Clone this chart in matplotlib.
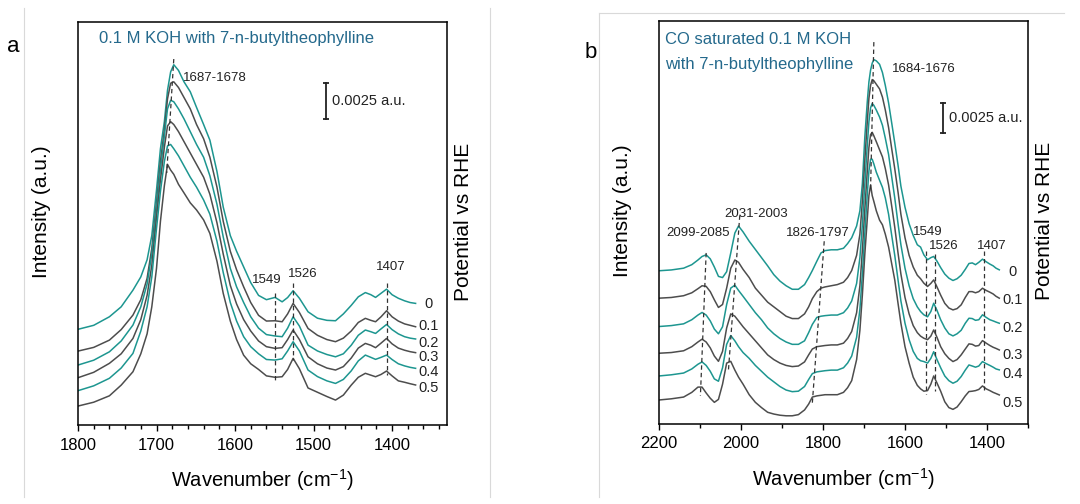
import matplotlib
matplotlib.use("Agg")
import matplotlib.pyplot as plt
from matplotlib.lines import Line2D
from matplotlib.ticker import MultipleLocator

plt.rcParams['font.family'] = ['Liberation Sans', 'DejaVu Sans']
plt.rcParams['mathtext.fontset'] = 'custom'
plt.rcParams['mathtext.rm'] = 'Liberation Sans'
plt.rcParams['mathtext.it'] = 'Liberation Sans:italic'

TEAL = '#1d9690'
GREY = '#4d4d4d'
BLUE = '#24698c'

potentials = ['0', '0.1', '0.2', '0.3', '0.4', '0.5']

# ---- panel a : 0.1 M KOH (intensity in 1e-3 a.u., offset stacked)
wn_a = [1800, 1780, 1760, 1745, 1730, 1720, 1712, 1706, 1700, 1695,
        1690, 1686, 1682, 1678, 1672, 1665, 1657, 1649, 1640, 1632,
        1623, 1615, 1606, 1598, 1589, 1580, 1570, 1560, 1549, 1540,
        1533, 1526, 1518, 1507, 1495, 1483, 1472, 1462, 1452, 1443,
        1434, 1427, 1421, 1414, 1407, 1400, 1392, 1384, 1377, 1370]
a_00 = [6.72, 7.0, 7.6, 8.3, 9.47, 10.4, 11.6, 13.3, 16.5, 19.4,
        21.3, 23.5, 24.8, 25.3, 24.9, 24.1, 23.4, 22.3, 21.1, 20.0,
        17.8, 15.3, 13.3, 12.2, 11.1, 10.0, 9.1, 8.8, 8.96, 8.65,
        8.95, 9.43, 8.9, 7.95, 7.5, 7.35, 7.32, 7.8, 8.4, 9.0,
        9.3, 9.15, 8.96, 9.25, 9.54, 9.15, 8.9, 8.72, 8.6, 8.54]
a_01 = [5.19, 5.45, 5.96, 6.7, 7.72, 8.8, 10.3, 12.4, 15.6, 18.5,
        20.7, 22.9, 24.0, 24.1, 23.7, 23.0, 22.2, 21.1, 20.1, 18.8,
        16.7, 14.3, 12.2, 10.9, 9.7, 8.6, 7.7, 7.3, 7.32, 7.25,
        7.8, 8.54, 7.9, 6.78, 6.3, 6.0, 5.85, 6.1, 6.6, 7.2,
        7.49, 7.35, 7.25, 7.6, 8.02, 7.6, 7.3, 7.1, 7.0, 6.9]
a_02 = [4.21, 4.55, 5.14, 5.9, 7.02, 8.3, 9.9, 12.0, 15.2, 18.0,
        20.3, 22.2, 22.8, 22.7, 22.2, 21.5, 20.6, 19.7, 18.8, 17.5,
        15.5, 13.2, 11.0, 9.7, 8.6, 7.6, 6.8, 6.35, 6.25, 6.2,
        6.8, 7.6, 6.95, 5.61, 5.2, 4.95, 4.79, 5.0, 5.6, 6.3,
        6.67, 6.55, 6.43, 6.75, 7.06, 6.7, 6.4, 6.2, 6.1, 6.04]
a_03 = [3.32, 3.7, 4.33, 5.0, 6.08, 7.4, 9.1, 11.2, 14.6, 17.2,
        19.5, 21.0, 21.3, 21.1, 20.6, 19.9, 19.1, 18.3, 17.4, 16.2,
        14.2, 12.0, 9.8, 8.5, 7.4, 6.6, 5.9, 5.5, 5.38, 5.43,
        6.0, 6.67, 6.0, 4.79, 4.3, 4.0, 3.86, 4.1, 4.7, 5.4,
        5.73, 5.6, 5.43, 5.75, 6.08, 5.7, 5.4, 5.25, 5.15, 5.08]
a_04 = [2.41, 2.75, 3.28, 4.0, 5.03, 6.6, 8.3, 10.4, 13.8, 16.4,
        18.5, 19.6, 19.7, 19.4, 18.9, 18.2, 17.4, 16.7, 15.8, 14.8,
        12.9, 10.7, 8.6, 7.3, 6.2, 5.5, 5.0, 4.6, 4.56, 4.65,
        5.2, 5.85, 5.2, 3.86, 3.4, 3.1, 2.92, 3.2, 3.8, 4.5,
        4.91, 4.75, 4.61, 4.75, 4.91, 4.6, 4.3, 4.15, 4.05, 3.98]
a_05 = [1.33, 1.6, 2.05, 2.8, 3.74, 5.0, 6.4, 8.3, 11.0, 14.3,
        16.8, 18.3, 17.9, 17.6, 16.9, 16.3, 15.6, 15.1, 14.4, 13.45,
        11.5, 9.24, 7.3, 6.0, 4.9, 4.3, 3.9, 3.45, 3.35, 3.39,
        3.9, 4.68, 3.95, 2.6, 2.3, 2.0, 1.75, 2.1, 2.8, 3.35,
        3.63, 3.5, 3.39, 3.55, 3.79, 3.45, 3.1, 3.0, 2.9, 2.81]
spectra_a = [a_00, a_01, a_02, a_03, a_04, a_05]
label_y_a = [8.5, 6.95, 5.78, 4.8, 3.74, 2.57]

# ---- panel b : CO saturated 0.1 M KOH
wn_b = [2200, 2170, 2140, 2120, 2105, 2095, 2085, 2075, 2065, 2055,
        2045, 2035, 2025, 2015, 2006, 1995, 1980, 1965, 1950, 1935,
        1920, 1905, 1890, 1875, 1860, 1845, 1835, 1826, 1815, 1805,
        1795, 1780, 1765, 1750, 1740, 1730, 1718, 1710, 1704, 1698,
        1692, 1688, 1684, 1680, 1676, 1670, 1662, 1655, 1648, 1640,
        1632, 1625, 1617, 1610, 1600, 1590, 1580, 1570, 1562, 1554,
        1545, 1537, 1530, 1522, 1513, 1503, 1493, 1483, 1473, 1463,
        1453, 1444, 1436, 1428, 1420, 1411, 1402, 1393, 1385, 1378,
        1370]
b_00 = [13.08, 13.15, 13.3, 13.6, 14.0, 14.3, 14.44, 14.1, 13.4, 12.6,
        12.5, 13.0, 14.6, 16.3, 16.9, 16.4, 15.6, 14.9, 14.2, 13.5,
        12.75, 12.2, 11.8, 11.5, 11.5, 11.9, 12.5, 13.1, 13.9, 14.6,
        14.8, 14.87, 14.87, 15.0, 15.4, 15.9, 16.9, 18.2, 20.5, 24.5,
        27.5, 29.2, 30.2, 30.8, 31.1, 31.0, 30.7, 30.0, 28.9, 27.4,
        25.6, 24.0, 22.1, 20.3, 18.5, 17.1, 16.1, 15.3, 15.1, 14.44,
        14.02, 14.2, 14.3, 13.9, 13.35, 12.8, 12.45, 12.25, 12.4, 12.7,
        13.2, 13.7, 13.75, 13.6, 13.8, 14.07, 13.85, 13.65, 13.5, 13.3,
        13.16]
b_01 = [10.74, 10.8, 10.95, 11.2, 11.55, 11.8, 11.75, 11.3, 10.6, 9.95,
        10.2, 11.6, 13.3, 14.0, 13.8, 13.2, 12.5, 11.6, 11.0, 10.4,
        10.0, 9.6, 9.2, 9.0, 9.0, 9.4, 10.0, 10.7, 11.3, 11.6,
        11.7, 11.8, 11.9, 12.1, 12.5, 13.1, 14.4, 16.2, 19.0, 22.5,
        25.8, 27.8, 28.9, 29.4, 29.3, 29.0, 28.6, 27.9, 26.8, 25.3,
        23.4, 21.8, 19.8, 17.9, 15.9, 14.4, 13.4, 12.7, 12.4, 12.02,
        11.74, 12.0, 12.3, 11.7, 11.0, 10.3, 9.9, 9.74, 9.85, 10.17,
        10.8, 11.3, 11.3, 11.2, 11.3, 11.59, 11.4, 11.25, 11.1, 10.9,
        10.74]
b_02 = [8.32, 8.4, 8.55, 8.9, 9.3, 9.52, 9.3, 8.8, 8.1, 7.7,
        8.3, 10.2, 11.6, 11.85, 11.4, 10.9, 10.2, 9.5, 8.9, 8.2,
        7.7, 7.3, 7.0, 6.8, 6.8, 7.1, 7.8, 8.5, 9.1, 9.2,
        9.25, 9.3, 9.3, 9.5, 9.9, 10.5, 12.0, 14.2, 17.0, 20.5,
        23.8, 25.8, 27.0, 27.35, 27.2, 26.8, 26.2, 25.5, 24.4, 23.0,
        21.0, 19.3, 17.1, 15.3, 13.3, 11.8, 10.7, 10.0, 9.6, 9.32,
        9.15, 9.6, 10.31, 9.7, 8.9, 8.2, 7.7, 7.52, 7.7, 8.0,
        8.6, 9.03, 9.0, 8.85, 8.9, 9.32, 9.1, 8.9, 8.8, 8.7,
        8.6]
b_03 = [6.04, 6.1, 6.25, 6.6, 7.0, 7.24, 7.0, 6.5, 5.8, 5.35,
        6.2, 8.2, 9.4, 9.2, 8.8, 8.3, 7.7, 7.1, 6.5, 5.9,
        5.5, 5.2, 5.0, 4.9, 4.95, 5.3, 5.9, 6.4, 6.6, 6.65,
        6.7, 6.75, 6.75, 6.9, 7.3, 7.9, 9.5, 11.8, 14.8, 18.3,
        21.6, 23.6, 24.7, 24.9, 24.6, 24.1, 23.4, 22.8, 21.8, 20.4,
        18.5, 16.8, 14.6, 12.8, 10.8, 9.4, 8.4, 7.8, 7.5, 7.32,
        7.2, 7.5, 8.03, 7.4, 6.6, 6.0, 5.6, 5.33, 5.5, 5.9,
        6.4, 6.84, 6.8, 6.65, 6.7, 7.12, 6.9, 6.7, 6.55, 6.45,
        6.32]
b_04 = [4.1, 4.2, 4.35, 4.7, 5.1, 5.3, 5.0, 4.5, 3.85, 3.65,
        4.8, 6.8, 7.55, 7.1, 6.6, 6.1, 5.6, 5.0, 4.5, 4.0,
        3.6, 3.2, 2.9, 2.76, 2.8, 3.2, 3.8, 4.3, 4.45, 4.5,
        4.55, 4.6, 4.6, 4.8, 5.2, 5.8, 7.4, 9.8, 12.8, 16.3,
        19.6, 21.6, 22.6, 22.6, 22.2, 21.5, 20.8, 20.2, 19.3, 17.9,
        16.0, 14.4, 12.3, 10.5, 8.6, 7.2, 6.2, 5.6, 5.4, 5.33,
        5.2, 5.6, 6.17, 5.5, 4.8, 4.1, 3.7, 3.48, 3.65, 4.05,
        4.6, 5.04, 4.95, 4.85, 4.95, 5.33, 5.15, 5.0, 4.85, 4.7,
        4.62]
b_05 = [2.05, 2.15, 2.3, 2.7, 3.15, 3.15, 2.65, 2.2, 1.85, 2.1,
        3.4, 5.2, 5.35, 4.6, 4.0, 3.4, 2.5, 1.85, 1.4, 1.0,
        0.85, 0.75, 0.7, 0.7, 0.8, 1.2, 1.7, 2.3, 2.4, 2.45,
        2.5, 2.5, 2.5, 2.7, 3.1, 3.7, 5.5, 8.0, 11.0, 14.5,
        17.5, 19.5, 20.4, 19.5, 19.0, 18.2, 17.4, 17.0, 16.2, 15.1,
        13.6, 12.3, 10.3, 8.6, 6.6, 5.2, 4.0, 3.3, 3.0, 2.8,
        2.85, 3.4, 4.1, 3.5, 2.8, 1.9, 1.4, 1.25, 1.45, 1.9,
        2.4, 2.77, 2.8, 2.85, 2.95, 3.25, 3.0, 2.85, 2.7, 2.6,
        2.48]
spectra_b = [b_00, b_01, b_02, b_03, b_04, b_05]
label_y_b = [13.0, 10.6, 8.18, 5.9, 4.27, 1.77]

# peak guide lines: (x_top, y_top, x_bottom, y_bottom)
guides_a = [(1678, 25.7, 1687, 17.7), (1549, 9.24, 1549, 2.92),
            (1526, 9.94, 1526, 4.56), (1407, 9.94, 1407, 3.5)]
guides_b = [(2085, 14.6, 2099, 2.4), (2003, 17.8, 2031, 4.4),
            (1797, 15.6, 1826, 1.8), (1676, 32.6, 1684, 20.0),
            (1549, 14.8, 1549, 2.6), (1526, 14.5, 1526, 2.8),
            (1407, 14.8, 1407, 2.9)]
# peak labels: (text, x, y, ha)
peaks_a = [('1687-1678', 1666, 24.4, 'left'), ('1549', 1559, 10.2, 'center'),
           ('1526', 1514, 10.6, 'center'), ('1407', 1401, 11.1, 'center')]
peaks_b = [('2099-2085', 2104, 16.3, 'center'), ('2031-2003', 1962, 17.95, 'center'),
           ('1826-1797', 1812, 16.3, 'center'), ('1684-1676', 1554, 30.3, 'center'),
           ('1549', 1544, 16.35, 'center'), ('1526', 1505, 15.2, 'center'),
           ('1407', 1389, 15.2, 'center')]

fig = plt.figure(figsize=(10.8, 5.04), dpi=100)

# faint frame lines of the original sub-figures
for xs, ys in [([24, 24], [8, 497]), ([490, 490], [8, 497]),
               ([599, 599], [13, 497]), ([599, 1064], [13, 13])]:
    fig.add_artist(Line2D([x / 1080 for x in xs], [1 - y / 504 for y in ys],
                          color='#d9d9d9', lw=0.8))


def draw_panel(ax, wn, spectra, label_y, xlim, ylim, label_x, guides, peaks,
               bar_x, bar_y, major, minor):
    for i, y in enumerate(spectra):
        ax.plot(wn, y, color=TEAL if i % 2 == 0 else GREY, lw=1.1)
        ax.text(label_x, label_y[i], potentials[i], ha='center', va='center',
                fontsize=10.5, color='#222222')
    for x0, y0, x1, y1 in guides:
        ax.plot([x0, x1], [y0, y1], color='#333333', lw=0.9, ls=(0, (3.5, 2.5)))
    for t, x, y, ha in peaks:
        ax.text(x, y, t, ha=ha, va='center', fontsize=9.5, color='#222222')
    # scale bar 0.0025 a.u.
    ax.plot([bar_x, bar_x], [bar_y, bar_y + 2.5], color='#222222', lw=1.3)
    ax.plot([bar_x], [bar_y], marker='_', color='#222222', ms=5, mew=1.3)
    ax.plot([bar_x], [bar_y + 2.5], marker='_', color='#222222', ms=5, mew=1.3)
    ax.text(bar_x - (xlim[0] - xlim[1]) * 0.016, bar_y + 1.25, '0.0025 a.u.',
            ha='left', va='center', fontsize=10.5, color='#222222')

    ax.set_xlim(*xlim)
    ax.set_ylim(*ylim)
    ax.xaxis.set_major_locator(MultipleLocator(major))
    ax.xaxis.set_minor_locator(MultipleLocator(minor))
    ax.set_yticks([])
    ax.tick_params(axis='x', which='major', direction='out', length=4,
                   width=1, labelsize=12, pad=5)
    ax.tick_params(axis='x', which='minor', direction='out', length=3, width=1)
    for s in ax.spines.values():
        s.set_linewidth(1.1)
    ax.set_xlabel('Wavenumber (cm$^{-1}$)', fontsize=14.5)
    ax.xaxis.set_label_coords(0.5, -0.136)
    ax.xaxis.label.set_va('center')
    ax.set_ylabel('Intensity (a.u.)', fontsize=15)
    ax.yaxis.set_label_coords(-0.1, 0.53)
    ax.yaxis.label.set_va('center')
    ax.text(1.046, 0.504, 'Potential vs RHE', rotation=90, transform=ax.transAxes,
            ha='center', va='center', fontsize=15)


ax_a = fig.add_axes([78 / 1080, 79 / 504, 369 / 1080, 403 / 504])
draw_panel(ax_a, wn_a, spectra_a, label_y_a, (1800, 1330), (0, 28.3), 1354,
           guides_a, peaks_a, 1484.5, 21.5, 100, 20)
ax_a.text(0.057, 0.96, '0.1 M KOH with 7-n-butyltheophylline', transform=ax_a.transAxes,
          ha='left', va='center', fontsize=12, color=BLUE)

ax_b = fig.add_axes([659 / 1080, 80 / 504, 369 / 1080, 403 / 504])
draw_panel(ax_b, wn_b, spectra_b, label_y_b, (2200, 1300), (0, 34.4), 1338,
           guides_b, peaks_b, 1508, 24.87, 200, 100)
ax_b.text(0.016, 0.953, 'CO saturated 0.1 M KOH', transform=ax_b.transAxes,
          ha='left', va='center', fontsize=12, color=BLUE)
ax_b.text(0.016, 0.891, 'with 7-n-butyltheophylline', transform=ax_b.transAxes,
          ha='left', va='center', fontsize=12, color=BLUE)

fig.text(13 / 1080, 1 - 47 / 504, 'a', ha='center', va='center', fontsize=16)
fig.text(591 / 1080, 1 - 53 / 504, 'b', ha='center', va='center', fontsize=16)

fig.savefig('out.png', dpi=100)
